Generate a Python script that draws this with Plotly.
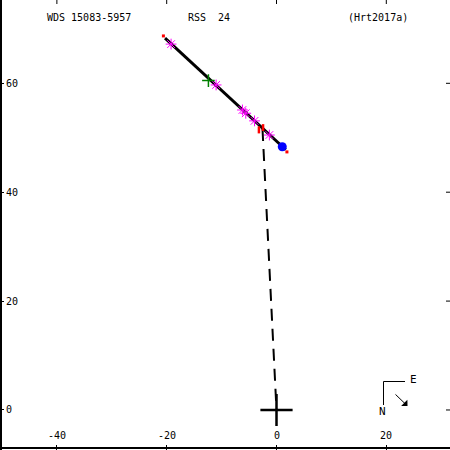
import plotly.graph_objects as go

# ---- data ----
orbit_x = [-20.3, 1.7]
orbit_y = [68.3, 47.8]
orbit_end_x = [-20.6, 1.9]
orbit_end_y = [68.7, 47.4]
obs_x = [-19.2, -11.0, -6.2, -5.6, -4.0, -1.3]
obs_y = [67.2, 59.7, 55.1, 54.5, 53.1, 50.5]
green_x = [-12.4]
green_y = [60.5]
oc_x = [-3.2, -3.2, -2.45, -2.45]
oc_y = [52.1, 50.8, 52.5, 51.25]
cur_x = [1.05]
cur_y = [48.35]
node_x = [-2.55, 0.0]
node_y = [51.6, 0.0]
primary_x = [0.0]
primary_y = [0.0]

x_ticks = [-40, -20, 0, 20]
x_labels = ["-40", "-20", "0", "20"]
y_ticks = [0, 20, 40, 60]
y_labels = ["0", "20", "40", "60"]

title_left = "WDS 15083-5957"
title_mid = "RSS  24"
title_right = "(Hrt2017a)"

FONT = "DejaVu Sans Mono"
W = H = 450

fig = go.Figure()
fig.add_trace(go.Scatter(x=node_x, y=node_y, mode="lines",
                         line=dict(color="black", width=2, dash="12px,8px")))
fig.add_trace(go.Scatter(x=orbit_end_x, y=orbit_end_y, mode="markers",
                         marker=dict(color="red", size=3, symbol="square")))
fig.add_trace(go.Scatter(x=orbit_x, y=orbit_y, mode="lines",
                         line=dict(color="black", width=3)))
fig.add_trace(go.Scatter(x=oc_x[:2], y=oc_y[:2], mode="lines", line=dict(color="red", width=2.5)))
fig.add_trace(go.Scatter(x=oc_x[2:], y=oc_y[2:], mode="lines", line=dict(color="red", width=2.5)))
fig.add_trace(go.Scatter(x=obs_x, y=obs_y, mode="markers",
                         marker=dict(symbol="asterisk-open", size=9, color="magenta",
                                     line=dict(color="magenta", width=1))))
fig.add_trace(go.Scatter(x=green_x, y=green_y, mode="markers",
                         marker=dict(symbol="cross-thin-open", size=9, color="green",
                                     line=dict(color="green", width=1.5))))
fig.add_trace(go.Scatter(x=cur_x, y=cur_y, mode="markers",
                         marker=dict(color="blue", size=9, symbol="circle")))
fig.add_trace(go.Scatter(x=primary_x, y=primary_y, mode="markers",
                         marker=dict(symbol="cross-thin-open", size=23, color="black",
                                     line=dict(color="black", width=2.5))))

def px(x): return x / W
def py(y): return 1 - y / H

shapes = []
# spines
shapes.append(dict(type="line", xref="paper", yref="paper", x0=px(1), x1=px(1), y0=0, y1=1,
                   line=dict(color="black", width=2)))
shapes.append(dict(type="line", xref="paper", yref="paper", x0=0, x1=1, y0=py(448), y1=py(448),
                   line=dict(color="black", width=2)))
# top & right mirrored ticks
for v in x_ticks:
    shapes.append(dict(type="line", xref="x", yref="paper", x0=v, x1=v, y0=1, y1=py(4),
                       line=dict(color="black", width=1)))
for v in y_ticks:
    shapes.append(dict(type="line", xref="paper", yref="y", x0=px(450), x1=px(446), y0=v, y1=v,
                       line=dict(color="black", width=1)))
# compass
shapes.append(dict(type="line", xref="paper", yref="paper", x0=px(383.5), x1=px(405),
                   y0=py(381.5), y1=py(381.5), line=dict(color="black", width=1)))
shapes.append(dict(type="line", xref="paper", yref="paper", x0=px(383.5), x1=px(383.5),
                   y0=py(381.5), y1=py(405), line=dict(color="black", width=1)))

annotations = [
    dict(x=px(45), y=py(17), xref="paper", yref="paper", text=title_left, showarrow=False,
         xanchor="left", yanchor="middle", font=dict(family=FONT, size=10, color="black")),
    dict(x=px(186), y=py(17), xref="paper", yref="paper", text=title_mid.replace(" ", "&nbsp;"),
         showarrow=False, xanchor="left", yanchor="middle",
         font=dict(family=FONT, size=10, color="black")),
    dict(x=px(346), y=py(17), xref="paper", yref="paper", text=title_right, showarrow=False,
         xanchor="left", yanchor="middle", font=dict(family=FONT, size=10, color="black")),
    dict(x=px(413), y=py(379), xref="paper", yref="paper", text="E", showarrow=False,
         xanchor="center", yanchor="middle", font=dict(family=FONT, size=11, color="black")),
    dict(x=px(382.5), y=py(411), xref="paper", yref="paper", text="N", showarrow=False,
         xanchor="center", yanchor="middle", font=dict(family=FONT, size=11, color="black")),
    dict(x=px(407.5), y=py(406), ax=-13.5, ay=-13, xref="paper", yref="paper",
         axref="pixel", ayref="pixel", text="", showarrow=True, arrowhead=1, arrowsize=1.5,
         arrowwidth=1, arrowcolor="black"),
]
for v, t in zip(x_ticks, x_labels):
    annotations.append(dict(x=v, y=py(435), xref="x", yref="paper", text=t, showarrow=False,
                            xanchor="center", yanchor="middle",
                            font=dict(family=FONT, size=10, color="black")))
for v, t in zip(y_ticks, y_labels):
    annotations.append(dict(x=px(4), y=v, xref="paper", yref="y", text=t, showarrow=False,
                            xanchor="left", yanchor="middle",
                            font=dict(family=FONT, size=10, color="black")))

fig.update_layout(
    width=W, height=H, margin=dict(l=0, r=0, t=0, b=0),
    paper_bgcolor="white", plot_bgcolor="white", showlegend=False, hovermode=False,
    shapes=shapes, annotations=annotations,
    xaxis=dict(range=[-50.36, 31.6], tickvals=x_ticks, showticklabels=False,
               ticks="inside", ticklen=5, tickcolor="black", tickwidth=1,
               showgrid=False, zeroline=False, showline=False),
    yaxis=dict(range=[-7.35, 75.3], tickvals=y_ticks, showticklabels=False,
               ticks="inside", ticklen=4, tickcolor="black", tickwidth=1,
               showgrid=False, zeroline=False, showline=False),
)
fig.write_html("out.html", config={"displayModeBar": False},
               post_script="document.body.style.margin='0';")
